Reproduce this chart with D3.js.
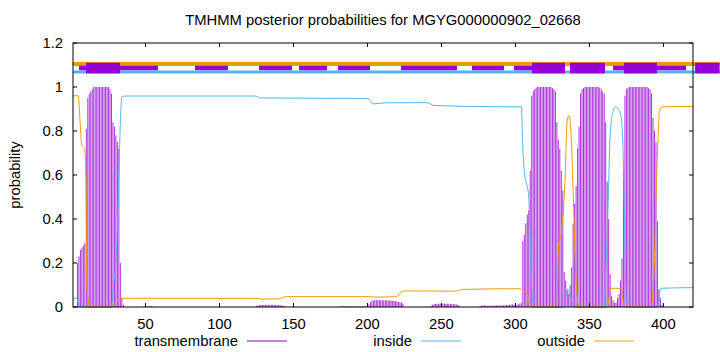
<!DOCTYPE html>
<html>
<head>
<meta charset="utf-8">
<script src="https://cdn.jsdelivr.net/npm/d3@7"></script>
<style>
  body { margin: 0; background: #fff; }
  text { font-family: "Liberation Sans", Arial, sans-serif; font-size: 14.8px; fill: #000; }
</style>
</head>
<body>
<svg id="chart" width="720" height="352"></svg>
<script>
const title = 'TMHMM posterior probabilities for MGYG000000902_02668';
const seqLength = 420;
const xTicks = [50, 100, 150, 200, 250, 300, 350, 400];
const yTicks = [0, 0.2, 0.4, 0.6, 0.8, 1, 1.2];

// transmembrane posterior, one value per residue, in runs starting at tmStarts
const tmStarts = [4, 49, 125, 181, 201, 243, 276];
const tmProbs = [
  [0.20, 0.23, 0.26, 0.27, 0.28, 0.29, 0.81, 0.95, 0.97, 0.98, 0.99,
   1, 1, 1, 1, 1, 1, 1, 1, 1, 1, 1,
   0.99, 0.97, 0.84, 0.82, 0.78, 0.75, 0.72, 0.20, 0.04, 0.01],
  [0.003, 0.004, 0.004, 0.003, 0.003, 0.003, 0.002],
  [0.004, 0.007, 0.009, 0.009, 0.009, 0.01, 0.01, 0.01, 0.01, 0.01,
   0.01, 0.01, 0.01, 0.009, 0.009, 0.009, 0.008, 0.007, 0.005, 0.003],
  [0.002, 0.003, 0.003, 0.003, 0.003, 0.003, 0.003, 0.003, 0.003, 0.003,
   0.003, 0.003, 0.003, 0.003, 0.003, 0.003, 0.003, 0.003, 0.002],
  [0.012, 0.022, 0.028, 0.03, 0.031, 0.031, 0.031, 0.031, 0.031, 0.031, 0.03, 0.03,
   0.03, 0.03, 0.029, 0.029, 0.028, 0.027, 0.026, 0.025, 0.024, 0.022, 0.02, 0.015],
  [0.006, 0.01, 0.013, 0.014, 0.015, 0.015, 0.015, 0.015, 0.015, 0.015,
   0.015, 0.015, 0.015, 0.014, 0.014, 0.013, 0.013, 0.012, 0.01, 0.006],
  [0.005, 0.006, 0.007, 0.007, 0.007, 0.006, 0.006, 0.006, 0.006, 0.006,
   0.007, 0.007, 0.007, 0.007, 0.007, 0.007, 0.008, 0.008, 0.009, 0.01,
   0.01, 0.012, 0.012, 0.01, 0.008, 0.01, 0.012, 0.015, 0.02,
   0.30, 0.33, 0.38, 0.42, 0.44, 0.62, 0.96, 0.98, 0.99, 0.995,
   1, 1, 1, 1, 1, 1, 1, 1, 1, 1,
   0.995, 0.99, 0.98, 0.84, 0.76, 0.72, 0.62, 0.53, 0.16, 0.12,
   0.08, 0.06, 0.10, 0.18, 0.38, 0.47, 0.55, 0.72, 0.82, 0.97,
   0.99, 0.995, 1, 1, 1, 1, 1, 1, 1, 1, 1, 1,
   0.995, 0.99, 0.98, 0.97, 0.84, 0.57, 0.40, 0.15, 0.05, 0.03,
   0.02, 0.02, 0.04, 0.06, 0.12, 0.22, 0.62, 0.96, 0.99, 0.995,
   1, 1, 1, 1, 1, 1, 1, 1, 1, 1, 1, 1, 1,
   0.995, 0.99, 0.97, 0.86, 0.80, 0.75, 0.39, 0.08, 0.04, 0.01]
];

// inside / outside curves as [residue, probability]
const inside = [
  [1, 0.04], [3, 0.04], [4, 0.03], [5, 0.01], [7, 0], [27, 0], [28.5, 0.11], [29.6, 0.17],
  [30.7, 0.30], [31.9, 0.57], [33, 0.84], [34, 0.955], [36, 0.959], [124, 0.959], [128, 0.95],
  [200, 0.948], [204, 0.923], [212, 0.928], [240, 0.929], [245, 0.916], [290, 0.91], [304, 0.91],
  [305, 0.72], [306, 0.62], [309, 0.50], [311, 0.09], [312, 0.01], [313, 0], [333, 0], [334, 0.04],
  [335.5, 0.08], [337, 0.05], [340, 0], [360, 0], [361, 0.15], [362.5, 0.43], [364, 0.78],
  [366, 0.89], [367.5, 0.91], [369.5, 0.90], [371.5, 0.86], [373, 0.65], [374, 0.27], [375, 0.01],
  [376, 0], [396, 0], [397, 0.04], [398, 0.085], [420, 0.088]
];
const outside = [
  [1, 0.96], [4.6, 0.96], [5.7, 0.85], [6.8, 0.74], [9, 0.71], [9.8, 0.58], [10.3, 0.12],
  [11.4, 0.02], [12, 0], [27, 0], [29, 0.01], [31, 0.03], [34, 0.04], [126, 0.039], [128, 0.036],
  [140, 0.037], [145, 0.047], [201, 0.047], [205, 0.045], [219.7, 0.047], [222, 0.065],
  [225, 0.073], [260, 0.072], [263.7, 0.08], [303, 0.083], [305, 0.075], [307.6, 0.06],
  [310, 0.01], [311, 0], [328, 0], [329, 0.27], [331.3, 0.35], [333.5, 0.58], [335, 0.85],
  [336.2, 0.87], [338, 0.73], [339.1, 0.5], [341, 0.12], [342.5, 0.01], [343, 0], [362, 0],
  [364.6, 0.085], [371.4, 0.085], [373.6, 0], [391.7, 0], [393.9, 0.2], [395, 0.5], [396.2, 0.73],
  [397.3, 0.89], [399.6, 0.91], [420, 0.912]
];

// predicted topology strip drawn above the curves
const stripOutside = [0.8, 438];
const stripInside = [1, 438];
const stripLoops = [[5.1, 58.4], [83.4, 105.8], [126.7, 149], [153.7, 172.7], [180, 201.7],
  [222.7, 260.5], [270.6, 292.3], [299, 311.2], [366, 415.3]];
const stripHelices = [[9.8, 32.8], [311.2, 333.5], [336.9, 360.5], [373.4, 395.7], [421.4, 438]];

const colors = {tm: '#9400D3', inside: '#56B4E9', outside: '#E69F00'};
const plot = {left: 73, right: 693, top: 43, bottom: 307};

const svg = d3.select('#chart');
const x = d3.scaleLinear().domain([1, seqLength]).range([plot.left, plot.right]);
const y = d3.scaleLinear().domain([0, 1.2]).range([plot.bottom, plot.top]);

// impulses
const tmPoints = [];
tmStarts.forEach((s, i) => tmProbs[i].forEach((v, j) => tmPoints.push([s + j, v])));

svg.append('g')
  .selectAll('line')
  .data(tmPoints)
  .join('line')
  .attr('x1', d => x(d[0]))
  .attr('x2', d => x(d[0]))
  .attr('y1', y(0))
  .attr('y2', d => y(d[1]))
  .attr('stroke', colors.tm)
  .attr('stroke-opacity', 0.8)
  .attr('stroke-width', 1);

const line = d3.line().x(d => x(d[0])).y(d => y(d[1])).curve(d3.curveMonotoneX);

svg.append('path').datum(inside)
  .attr('d', line).attr('fill', 'none')
  .attr('stroke', colors.inside).attr('stroke-width', 1);

svg.append('path').datum(outside)
  .attr('d', line).attr('fill', 'none')
  .attr('stroke', colors.outside).attr('stroke-width', 1);

// topology strip
const strip = svg.append('g');
strip.append('line')
  .attr('x1', x(stripOutside[0])).attr('x2', x(stripOutside[1]))
  .attr('y1', y(1.105)).attr('y2', y(1.105))
  .attr('stroke', colors.outside).attr('stroke-width', 4);
strip.append('line')
  .attr('x1', x(stripInside[0])).attr('x2', x(stripInside[1]))
  .attr('y1', y(1.068)).attr('y2', y(1.068))
  .attr('stroke', colors.inside).attr('stroke-width', 3);
strip.selectAll('line.loop')
  .data(stripLoops)
  .join('line')
  .attr('class', 'loop')
  .attr('x1', d => x(d[0])).attr('x2', d => x(d[1]))
  .attr('y1', y(1.086)).attr('y2', y(1.086))
  .attr('stroke', colors.tm).attr('stroke-width', 4.5);
strip.selectAll('rect')
  .data(stripHelices)
  .join('rect')
  .attr('x', d => x(d[0]))
  .attr('width', d => x(d[1]) - x(d[0]))
  .attr('y', y(1.11))
  .attr('height', y(1.062) - y(1.11))
  .attr('fill', colors.tm);

// border and ticks
svg.append('rect')
  .attr('x', plot.left).attr('y', plot.top)
  .attr('width', plot.right - plot.left).attr('height', plot.bottom - plot.top)
  .attr('fill', 'none').attr('stroke', '#000').attr('stroke-width', 1);

const ticks = svg.append('g').attr('stroke', '#000').attr('stroke-width', 1);
xTicks.forEach(t => {
  ticks.append('line').attr('x1', x(t)).attr('x2', x(t)).attr('y1', plot.bottom).attr('y2', plot.bottom - 4);
  ticks.append('line').attr('x1', x(t)).attr('x2', x(t)).attr('y1', plot.top).attr('y2', plot.top + 4);
});
yTicks.forEach(t => {
  ticks.append('line').attr('x1', plot.left).attr('x2', plot.left + 4).attr('y1', y(t)).attr('y2', y(t));
  ticks.append('line').attr('x1', plot.right).attr('x2', plot.right - 4).attr('y1', y(t)).attr('y2', y(t));
});

svg.append('g').selectAll('text')
  .data(xTicks)
  .join('text')
  .attr('x', d => x(d))
  .attr('y', 329)
  .attr('text-anchor', 'middle')
  .text(d => d);

svg.append('g').selectAll('text')
  .data(yTicks)
  .join('text')
  .attr('x', 63)
  .attr('y', d => y(d) + 5)
  .attr('text-anchor', 'end')
  .text(d => d);

svg.append('text')
  .attr('x', 383).attr('y', 25)
  .attr('text-anchor', 'middle')
  .text(title);

svg.append('text')
  .attr('transform', 'translate(20,175) rotate(-90)')
  .attr('text-anchor', 'middle')
  .text('probability');

// legend
const legend = [
  {label: 'transmembrane', color: colors.tm, x: 238},
  {label: 'inside', color: colors.inside, x: 412},
  {label: 'outside', color: colors.outside, x: 585}
];
const lg = svg.append('g').selectAll('g').data(legend).join('g');
lg.append('text')
  .attr('x', d => d.x).attr('y', 346)
  .attr('text-anchor', 'end')
  .text(d => d.label);
lg.append('line')
  .attr('x1', d => d.x + 9).attr('x2', d => d.x + 49)
  .attr('y1', 341).attr('y2', 341)
  .attr('stroke', d => d.color).attr('stroke-width', 1);
</script>
</body>
</html>
